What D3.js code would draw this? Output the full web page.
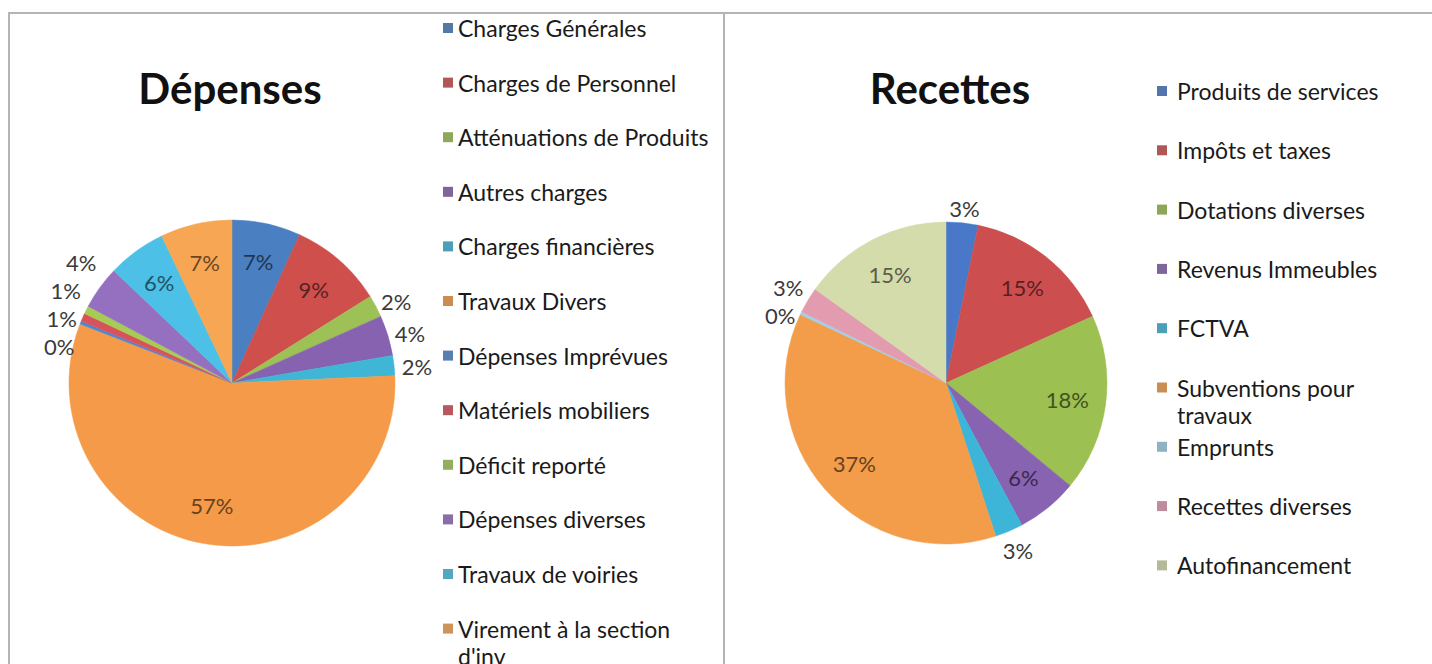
<!DOCTYPE html>
<html>
<head>
<meta charset="utf-8">
<script src="https://cdn.jsdelivr.net/npm/d3@7/dist/d3.min.js"></script>
<style>
  html, body { margin: 0; padding: 0; background: #fff; overflow: hidden; }
  svg { display: block; font-family: Lato, "Open Sans", sans-serif; }
</style>
</head>
<body>
<svg id="chart" width="1432" height="664"></svg>
<script>
// ---------- DATA ----------
const depTitle = "Dépenses";
const depCategories = [
  "Charges Générales", "Charges de Personnel", "Atténuations de Produits",
  "Autres charges", "Charges financières", "Travaux Divers",
  "Dépenses Imprévues", "Matériels mobiliers", "Déficit reporté",
  "Dépenses diverses", "Travaux de voiries", "Virement à la section d'inv"
];
const depValues = [6.8, 9.3, 2.2, 4.0, 2.0, 56.6, 0.3, 0.8, 0.8, 4.3, 5.8, 7.1];

const recTitle = "Recettes";
const recCategories = [
  "Produits de services", "Impôts et taxes", "Dotations diverses",
  "Revenus Immeubles", "FCTVA", "Subventions pour travaux",
  "Emprunts", "Recettes diverses", "Autofinancement"
];
const recValues = [3.2, 15.0, 17.8, 6.2, 2.8, 37.0, 0.3, 2.6, 15.1];

// ---------- STYLE ----------
const depColors = ["#4a7fc1", "#cf4f4d", "#9dc155", "#8662b0", "#3fb6d6", "#f59a48",
                   "#4f86d0", "#d9525a", "#a6cc55", "#9670c0", "#4cc0e6", "#f7a653"];
const recColors = ["#4a78c8", "#cd4e4f", "#9cc052", "#8763b1", "#3db5d8", "#f39c4a",
                   "#9fd0e8", "#e39bb0", "#d3dcaa"];

const svg = d3.select("#chart");

// panel borders
const border = svg.append("g").attr("fill", "none").attr("stroke", "#b4b4b4").attr("stroke-width", 2);
border.append("line").attr("x1", 8).attr("x2", 1432).attr("y1", 13).attr("y2", 13);
border.append("line").attr("x1", 9).attr("x2", 9).attr("y1", 13).attr("y2", 664);
border.append("line").attr("x1", 724).attr("x2", 724).attr("y1", 13).attr("y2", 664);

function wrapText(textSel, str, maxW, lineH) {
  const words = str.split(" ");
  let line = [];
  let tspan = textSel.append("tspan").attr("x", textSel.attr("x")).attr("dy", 0);
  words.forEach(w => {
    line.push(w);
    tspan.text(line.join(" "));
    if (tspan.node().getComputedTextLength() > maxW && line.length > 1) {
      line.pop();
      tspan.text(line.join(" "));
      line = [w];
      tspan = textSel.append("tspan").attr("x", textSel.attr("x")).attr("dy", lineH).text(w);
    }
  });
}

const LABEL_FS = 22;

function drawPie(opts) {
  const { categories, values, colors, title, cx, cy, r, titleX, titleY,
          legendX, legendTextX, legendY, legendStep, legendWrap } = opts;
  const g = svg.append("g");
  const data = categories.map((c, i) => ({ cat: c, value: values[i], color: colors[i] }));
  const pie = d3.pie().sort(null).value(d => d.value);
  const arcs = pie(data);
  const arc = d3.arc().innerRadius(0).outerRadius(r);

  const pg = g.append("g").attr("transform", `translate(${cx},${cy})`);
  pg.selectAll("path").data(arcs).join("path")
    .attr("d", arc)
    .attr("fill", d => d.data.color)
    .attr("stroke", d => d.data.color)
    .attr("stroke-width", 0.5);

  // labels
  const inside = arcs.filter(d => d.data.value >= 5);
  const outside = arcs.filter(d => d.data.value < 5);
  const labelArc = d3.arc().innerRadius(r * 0.76).outerRadius(r * 0.76);
  pg.selectAll("text.in").data(inside).join("text")
    .attr("class", "in")
    .attr("x", d => labelArc.centroid(d)[0])
    .attr("y", d => labelArc.centroid(d)[1])
    .attr("text-anchor", "middle")
    .attr("dominant-baseline", "central")
    .attr("font-size", LABEL_FS)
    .attr("fill", d => d3.color(d.data.color).darker(2.4))
    .text(d => Math.round(d.data.value) + "%");

  const lw = 34, lh = 23, minGap = 28;
  const outPos = outside.map(d => {
    const a = (d.startAngle + d.endAngle) / 2;
    const s = Math.sin(a), c = Math.cos(a);
    const px = s * (r + 6), py = -c * (r + 6);
    return { d, x: px + s * lw / 2, y: py - c * lh / 2 + 3, side: s >= 0 ? 1 : -1 };
  });
  // simple vertical relaxation per side
  [1, -1].forEach(side => {
    const items = outPos.filter(p => p.side === side).sort((a, b) => a.y - b.y);
    for (let it = 0; it < 60; it++) {
      for (let i = 1; i < items.length; i++) {
        const gap = items[i].y - items[i - 1].y;
        if (gap < minGap) {
          const push = (minGap - gap) / 2;
          items[i].y += push;
          items[i - 1].y -= push;
        }
      }
    }
  });
  pg.selectAll("text.out").data(outPos).join("text")
    .attr("class", "out")
    .attr("x", p => p.x)
    .attr("y", p => p.y)
    .attr("text-anchor", "middle")
    .attr("dominant-baseline", "central")
    .attr("font-size", LABEL_FS)
    .attr("fill", "#3a3a3a")
    .text(p => Math.round(p.d.data.value) + "%");

  // title
  g.append("text")
    .attr("x", titleX).attr("y", titleY)
    .attr("text-anchor", "middle")
    .attr("dominant-baseline", "central")
    .attr("font-size", 42).attr("font-weight", "bold")
    .attr("fill", "#111")
    .text(title);

  // legend
  const lg = g.append("g");
  data.forEach((d, i) => {
    const y = legendY + i * legendStep;
    lg.append("rect")
      .attr("x", legendX).attr("y", y - 5)
      .attr("width", 10).attr("height", 10)
      .attr("fill", d3.interpolateRgb(d.color, "#6a6a6a")(0.3));
    const t = lg.append("text")
      .attr("x", legendTextX).attr("y", y)
      .attr("dominant-baseline", "central")
      .attr("font-size", 23)
      .attr("fill", "#1a1a1a");
    wrapText(t, d.cat, legendWrap, 27);
  });
}

drawPie({
  categories: depCategories, values: depValues, colors: depColors, title: depTitle,
  cx: 232, cy: 383, r: 163, titleX: 230, titleY: 88,
  legendX: 443, legendTextX: 458, legendY: 28, legendStep: 54.6, legendWrap: 262
});
drawPie({
  categories: recCategories, values: recValues, colors: recColors, title: recTitle,
  cx: 946, cy: 383, r: 161, titleX: 950, titleY: 88,
  legendX: 1157, legendTextX: 1177, legendY: 91, legendStep: 59.3, legendWrap: 230
});
</script>
</body>
</html>
